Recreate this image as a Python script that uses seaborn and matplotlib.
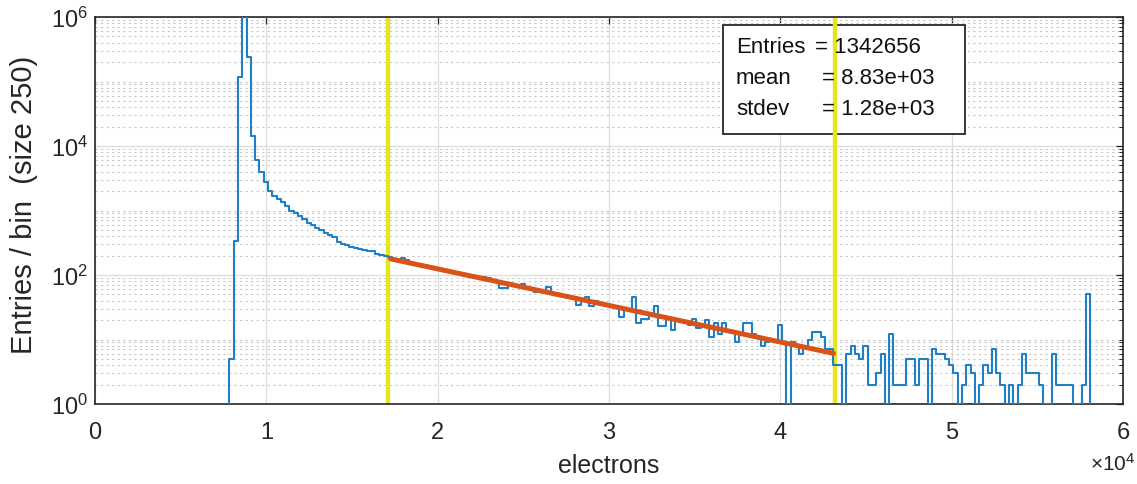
import numpy as np
import pandas as pd
import matplotlib
matplotlib.use("Agg")
import matplotlib.pyplot as plt
import seaborn as sns
from matplotlib.ticker import FixedLocator, FixedFormatter, LogFormatterMathtext, NullFormatter
from matplotlib.patches import Rectangle

# ---------------- data ----------------
bin_start = 7850
bin_width = 250
counts = [
    5, 336, 117000, 1100000, 240000, 14300, 6000, 3950, 2760, 2000,
    1680, 1500, 1350, 1170, 1000, 910, 820, 740, 640, 600,
    535, 500, 450, 415, 385, 330, 305, 290, 275, 260,
    250, 243, 235, 232, 215, 205, 198, 192,
    178, 172, 185, 170,
    150, 150, 140, 142, 130, 128, 126, 118, 115, 116, 108, 104, 101, 99,
    97, 96, 86, 92, 90,
    82, 80, 62, 63, 74, 70, 68, 72, 64, 60,
    54, 54, 57, 66, 51, 51, 48, 47, 46, 46,
    34, 42, 45, 33, 40, 37, 35, 33, 33, 31,
    22, 29, 29, 45, 18, 21, 21, 24, 33, 16,
    16, 21, 14, 21, 19, 18, 17, 21, 15, 16,
    20, 11, 18, 12, 18, 14, 13, 9, 12, 18,
    18, 12, 11, 8, 9, 10, 9, 17, 9, 1,
    9, 8, 6, 8, 10, 13, 13, 11, 7, 7,
    4,
    4, 1, 6, 8, 6, 5, 8, 2, 2, 3,
    6, 1, 12, 2, 2, 2, 5, 5, 2, 5,
    5, 1, 7, 6, 6, 5, 4, 3, 1, 2,
    4, 3, 1,
    2, 4, 3, 7, 3, 2, 1, 2, 1, 2,
    6, 3, 3, 3, 2, 1, 1, 6, 2, 2,
    2, 2, 1, 1, 2, 50,
]
fit_x = [17250, 43100]
fit_y = [178, 6.1]
range_lines = [17100, 43200]
x_ticks = [0, 10000, 20000, 30000, 40000, 50000, 60000]
x_tick_labels = ["0", "1", "2", "3", "4", "5", "6"]
y_major = [1, 1e2, 1e4, 1e6]
stats_names = ["Entries", "mean", "stdev"]
stats_values = ["= 1342656", "= 8.83e+03", "= 1.28e+03"]
x_label = "electrons"
y_label = "Entries / bin  (size 250)"

# ---------------- style ----------------
sns.set_theme(style="white")
plt.rcParams["font.family"] = ["Liberation Sans", "DejaVu Sans"]
plt.rcParams["mathtext.fontset"] = "custom"
plt.rcParams["mathtext.rm"] = "Liberation Sans"
plt.rcParams["mathtext.it"] = "Liberation Sans:italic"
plt.rcParams["mathtext.bf"] = "Liberation Sans:bold"

W, H = 1137, 485
fig = plt.figure(figsize=(W / 100, H / 100), dpi=100)
fig.patch.set_facecolor("white")
ax = fig.add_axes([95 / W, 1 - 405 / H, 1028 / W, 387 / H])

edges = bin_start + bin_width * np.arange(len(counts) + 1)
step_x = np.concatenate([[edges[0]], edges])
step_y = np.concatenate([[1.0], np.asarray(counts, dtype=float), [1.0]])
df = pd.DataFrame({"x": step_x, "y": step_y})

sns.lineplot(data=df, x="x", y="y", drawstyle="steps-post", estimator=None,
             sort=False, color="#1f80c8", linewidth=1.5, ax=ax, zorder=3)
sns.lineplot(x=fit_x, y=fit_y, color="#D95319", linewidth=3.6, ax=ax,
             zorder=4, estimator=None, sort=False)
for v in range_lines:
    ax.axvline(v, color="#e6e620", linewidth=3.2, zorder=2)

ax.set_yscale("log")
ax.set_xlim(0, 60000)
ax.set_ylim(1, 1e6)

ax.xaxis.set_major_locator(FixedLocator(x_ticks))
ax.xaxis.set_major_formatter(FixedFormatter(x_tick_labels))
ax.yaxis.set_major_locator(FixedLocator(y_major))
ax.yaxis.set_major_formatter(LogFormatterMathtext())
minor = [m * 10.0 ** k for k in range(0, 6) for m in range(2, 11)]
minor = [v for v in minor if v not in y_major and v <= 1e6]
ax.yaxis.set_minor_locator(FixedLocator(minor))
ax.yaxis.set_minor_formatter(NullFormatter())

ax.set_axisbelow(True)
ax.grid(True, which="major", axis="both", color="#dcdcdc", linewidth=0.9, linestyle="-")
ax.grid(True, which="minor", axis="y", color="#c8c8c8", linewidth=0.8, linestyle=(0, (2, 3)))

ax.tick_params(axis="both", which="both", direction="in", top=True, right=True,
               colors="#262626", labelcolor="#262626")
ax.tick_params(axis="both", which="major", length=5, width=0.9, labelsize=17)
ax.tick_params(axis="y", which="minor", length=3, width=0.7)
ax.tick_params(axis="x", which="major", pad=12)
ax.tick_params(axis="y", which="major", pad=5)
for s in ax.spines.values():
    s.set_color("#262626")
    s.set_linewidth(1.2)

ax.set_xlabel(x_label, fontsize=18, color="#262626")
ax.xaxis.label.set_va("center")
ax.xaxis.set_label_coords(0.5, (405 - 466) / 387)
ax.set_ylabel(y_label, fontsize=21, color="#262626")
ax.yaxis.label.set_va("center")
ax.yaxis.label.set_ha("center")
ax.yaxis.set_label_coords((24 - 95) / 1028, (405 - 205) / 387)

fig.text(1113 / W, 1 - 464 / H, "×" + r"$\mathdefault{10^{4}}$", ha="center",
         va="center", fontsize=15, color="#262626")

# stats box
ax.add_patch(Rectangle((0.6106, 0.6977), 0.2357, 0.2816, transform=ax.transAxes,
                       facecolor="white", edgecolor="#262626", linewidth=1.3, zorder=1.5))
rows_y = [(405 - 48) / 387, (405 - 79) / 387, (405 - 110) / 387]
val_x = [(815 - 95) / 1028, (822 - 95) / 1028, (822 - 95) / 1028]
for name, val, yy, vx in zip(stats_names, stats_values, rows_y, val_x):
    ax.text((736 - 95) / 1028, yy, name, transform=ax.transAxes, fontsize=16,
            va="center", ha="left", color="#111111", zorder=5)
    ax.text(vx, yy, val, transform=ax.transAxes, fontsize=16,
            va="center", ha="left", color="#111111", zorder=5)

fig.savefig("out.png", dpi=100, facecolor="white")
